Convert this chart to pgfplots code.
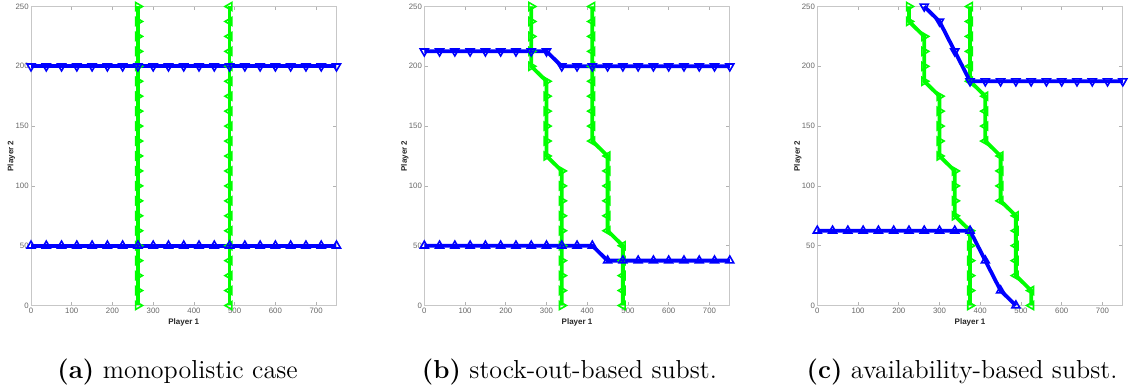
\documentclass[border=0pt]{standalone}
\usepackage{fontspec}
\usepackage{pgfplots}
\pgfplotsset{compat=1.18}
\newfontfamily\helv{Liberation Sans}
\definecolor{mblue}{rgb}{0,0,1}
\definecolor{mgreen}{rgb}{0,1,0}
\pgfplotsset{
  myaxis/.style={
    anchor=south west, scale only axis, width=152.75pt, height=149.5pt,
    xmin=0, xmax=750, ymin=0, ymax=250,
    xtick={0,100,...,700}, ytick={0,50,...,250},
    tick align=inside, tick pos=both,
    axis line style={black!22, line width=0.4pt},
    major tick length=1.8pt,
    every tick/.style={black!30, line width=0.3pt},
    /pgf/number format/assume math mode=true,
    ticklabel style={font=\helv\fontsize{3.9}{4}\selectfont, text=black!60},
    xticklabel style={inner sep=1.2pt},
    yticklabel style={inner sep=1pt},
    every axis x label/.style={at={(axis description cs:0.5,0)}, yshift=-8.3pt, anchor=center},
    every axis y label/.style={at={(axis description cs:0,0.5)}, xshift=-9.8pt, rotate=90, anchor=center},
    label style={font=\helv\bfseries\fontsize{4}{4}\selectfont, text=black!85},
    xlabel={Player 1}, ylabel={Player 2},
    clip=false,
  },
  base/.style={line width=1.9pt, mark=triangle, mark size=2.3pt},
  bl/.style={color=mblue, base, mark options={solid, line width=0.8pt}},
  bh/.style={color=mblue, base, mark options={solid, line width=0.8pt, rotate=180}},
  gl/.style={color=mgreen, base, mark options={solid, line width=0.8pt, rotate=-90}},
  gr/.style={color=mgreen, base, mark options={solid, line width=0.8pt, rotate=90}},
}
\begin{document}
\begin{tikzpicture}
\useasboundingbox (0,0) rectangle (564.5pt,194.5pt);
% ---------------- (a)
\begin{axis}[myaxis, at={(15.5pt,41.75pt)}]
\addplot[gl] coordinates {(262.5,0)(262.5,12.5)(262.5,25)(262.5,37.5)(262.5,50)(262.5,62.5)(262.5,75)(262.5,87.5)(262.5,100)(262.5,112.5)(262.5,125)(262.5,137.5)(262.5,150)(262.5,162.5)(262.5,175)(262.5,187.5)(262.5,200)(262.5,212.5)(262.5,225)(262.5,237.5)(262.5,250)};
\addplot[gr] coordinates {(487.5,0)(487.5,12.5)(487.5,25)(487.5,37.5)(487.5,50)(487.5,62.5)(487.5,75)(487.5,87.5)(487.5,100)(487.5,112.5)(487.5,125)(487.5,137.5)(487.5,150)(487.5,162.5)(487.5,175)(487.5,187.5)(487.5,200)(487.5,212.5)(487.5,225)(487.5,237.5)(487.5,250)};
\addplot[bl] coordinates {(0,50)(37.5,50)(75,50)(112.5,50)(150,50)(187.5,50)(225,50)(262.5,50)(300,50)(337.5,50)(375,50)(412.5,50)(450,50)(487.5,50)(525,50)(562.5,50)(600,50)(637.5,50)(675,50)(712.5,50)(750,50)};
\addplot[bh] coordinates {(0,200)(37.5,200)(75,200)(112.5,200)(150,200)(187.5,200)(225,200)(262.5,200)(300,200)(337.5,200)(375,200)(412.5,200)(450,200)(487.5,200)(525,200)(562.5,200)(600,200)(637.5,200)(675,200)(712.5,200)(750,200)};
\end{axis}
% ---------------- (b)
\begin{axis}[myaxis, at={(212.15pt,41.75pt)}]
\addplot[gl] coordinates {(262.5,250)(262.5,237.5)(262.5,225)(262.5,212.5)(262.5,200)(300,187.5)(300,175)(300,162.5)(300,150)(300,137.5)(300,125)(337.5,112.5)(337.5,100)(337.5,87.5)(337.5,75)(337.5,62.5)(337.5,50)(337.5,37.5)(337.5,25)(337.5,12.5)(337.5,0)};
\addplot[gr] coordinates {(412.5,250)(412.5,237.5)(412.5,225)(412.5,212.5)(412.5,200)(412.5,187.5)(412.5,175)(412.5,162.5)(412.5,150)(412.5,137.5)(450,125)(450,112.5)(450,100)(450,87.5)(450,75)(450,62.5)(487.5,50)(487.5,37.5)(487.5,25)(487.5,12.5)(487.5,0)};
\addplot[bl] coordinates {(0,50)(37.5,50)(75,50)(112.5,50)(150,50)(187.5,50)(225,50)(262.5,50)(300,50)(337.5,50)(375,50)(412.5,50)(450,37.5)(487.5,37.5)(525,37.5)(562.5,37.5)(600,37.5)(637.5,37.5)(675,37.5)(712.5,37.5)(750,37.5)};
\addplot[bh] coordinates {(0,212.5)(37.5,212.5)(75,212.5)(112.5,212.5)(150,212.5)(187.5,212.5)(225,212.5)(262.5,212.5)(300,212.5)(337.5,200)(375,200)(412.5,200)(450,200)(487.5,200)(525,200)(562.5,200)(600,200)(637.5,200)(675,200)(712.5,200)(750,200)};
\end{axis}
% ---------------- (c)
\begin{axis}[myaxis, at={(408.65pt,41.75pt)}]
\addplot[gl] coordinates {(225,250)(225,237.5)(262.5,225)(262.5,212.5)(262.5,200)(262.5,187.5)(300,175)(300,162.5)(300,150)(300,137.5)(300,125)(337.5,112.5)(337.5,100)(337.5,87.5)(337.5,75)(375,62.5)(375,50)(375,37.5)(375,25)(375,12.5)(375,0)};
\addplot[gr] coordinates {(375,250)(375,237.5)(375,225)(375,212.5)(375,200)(375,187.5)(412.5,175)(412.5,162.5)(412.5,150)(412.5,137.5)(450,125)(450,112.5)(450,100)(450,87.5)(487.5,75)(487.5,62.5)(487.5,50)(487.5,37.5)(487.5,25)(525,12.5)(525,0)};
\addplot[bl] coordinates {(0,62.5)(37.5,62.5)(75,62.5)(112.5,62.5)(150,62.5)(187.5,62.5)(225,62.5)(262.5,62.5)(300,62.5)(337.5,62.5)(375,62.5)(412.5,37.5)(450,12.5)(487.5,0)};
\addplot[bh] coordinates {(262.5,250)(300,237.5)(337.5,212.5)(375,187.5)(412.5,187.5)(450,187.5)(487.5,187.5)(525,187.5)(562.5,187.5)(600,187.5)(637.5,187.5)(675,187.5)(712.5,187.5)(750,187.5)};
\end{axis}
% ---------------- captions
\node[anchor=base, font=\fontsize{13}{15}\selectfont, inner sep=0pt] at (88.75pt,5pt) {\textbf{(a)} monopolistic case};
\node[anchor=base, font=\fontsize{13}{15}\selectfont, inner sep=0pt] at (284.7pt,5pt) {\textbf{(b)} stock-out-based subst.};
\node[anchor=base, font=\fontsize{13}{15}\selectfont, inner sep=0pt] at (481pt,5pt) {\textbf{(c)} availability-based subst.};
\end{tikzpicture}
\end{document}
